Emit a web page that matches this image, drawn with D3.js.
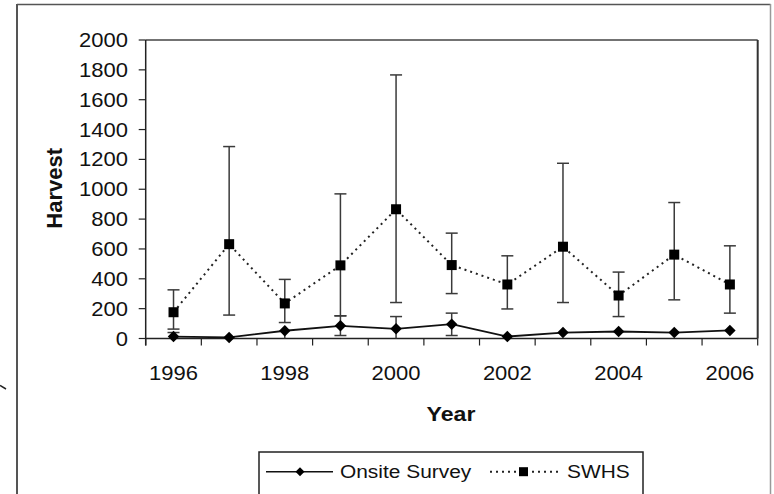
<!DOCTYPE html>
<html>
<head>
<meta charset="utf-8">
<script src="https://cdn.jsdelivr.net/npm/d3@7"></script>
<style>
  html, body { margin: 0; padding: 0; background: #fff; }
  svg { display: block; }
  text { font-family: "Liberation Sans", Arial, sans-serif; fill: #111; }
</style>
</head>
<body>
<svg id="chart" width="774" height="494"></svg>
<script>
// Harvest estimates by year: onsite survey vs. SWHS, with error bars
const years = [1996, 1997, 1998, 1999, 2000, 2001, 2002, 2003, 2004, 2005, 2006];
const xTickLabels = [1996, 1998, 2000, 2002, 2004, 2006];
const yTickValues = [0, 200, 400, 600, 800, 1000, 1200, 1400, 1600, 1800, 2000];

const swhs      = [176, 632, 235, 490, 866, 492, 362, 615, 288, 562, 362];
const swhsUpper = [326, 1286, 396, 969, 1766, 706, 554, 1174, 445, 911, 621];
const swhsLower = [63, 157, 107, 152, 241, 301, 198, 241, 147, 259, 170];

const onsite      = [13, 7, 52, 85, 65, 96, 13, 40, 47, 40, 54];
const onsiteUpper = [40, 7, 52, 152, 147, 170, 13, 40, 47, 40, 54];
const onsiteLower = [0, 7, 0, 20, 0, 20, 13, 40, 47, 40, 54];

const legendLabels = ["Onsite Survey", "SWHS"];

const svg = d3.select("#chart");
const SX = 1.1; // horizontal glyph stretch of the text

const x = d3.scaleBand().domain(years).range([145.7, 757.7]).padding(0);
const y = d3.scaleLinear().domain([0, 2000]).range([338.5, 40]);
const cx = d => x(d) + x.bandwidth() / 2;

function stretchedText(g, px, py, str, opts = {}) {
  const t = g.append("text")
    .attr("transform", `translate(${px},${py}) scale(${SX},1)`)
    .attr("text-anchor", opts.anchor || "middle")
    .style("font-size", (opts.size || 20) + "px")
    .text(str);
  if (opts.bold) t.style("font-weight", "bold");
  return t;
}

// outer frame
svg.append("line").attr("x1", 17).attr("x2", 17).attr("y1", 4).attr("y2", 494)
  .attr("stroke", "#555").attr("stroke-width", 2);
svg.append("line").attr("x1", 17).attr("x2", 770.5).attr("y1", 4.5).attr("y2", 4.5)
  .attr("stroke", "#555").attr("stroke-width", 1.5);
svg.append("line").attr("x1", 770.5).attr("x2", 770.5).attr("y1", 4).attr("y2", 494)
  .attr("stroke", "#999").attr("stroke-width", 1.5);
// small stroke at the far left margin
svg.append("path").attr("d", "M0,385.5 L6,389").attr("stroke", "#222").attr("stroke-width", 1.5).attr("fill", "none");

// plot area border (top and right)
const [x0, x1] = x.range();
svg.append("line").attr("x1", x0).attr("x2", x1).attr("y1", y(2000)).attr("y2", y(2000))
  .attr("stroke", "#444").attr("stroke-width", 1.5);
svg.append("line").attr("x1", x1).attr("x2", x1).attr("y1", y(2000)).attr("y2", y(0))
  .attr("stroke", "#333").attr("stroke-width", 2);

// y axis
const yAxis = svg.append("g");
yAxis.append("line").attr("x1", x0).attr("x2", x0).attr("y1", y(2000)).attr("y2", y(0) + 7)
  .attr("stroke", "#222").attr("stroke-width", 1.5);
yTickValues.forEach(v => {
  yAxis.append("line").attr("x1", x0 - 7).attr("x2", x0).attr("y1", y(v)).attr("y2", y(v))
    .attr("stroke", "#222").attr("stroke-width", 1.2);
  stretchedText(yAxis, 128, y(v) + 7, v, { anchor: "end" });
});

// x axis
const xAxis = svg.append("g");
xAxis.append("line").attr("x1", x0).attr("x2", x1).attr("y1", y(0)).attr("y2", y(0))
  .attr("stroke", "#222").attr("stroke-width", 1.5);
years.concat([null]).forEach(d => {
  const px = d === null ? x1 : x(d);
  xAxis.append("line").attr("x1", px).attr("x2", px).attr("y1", y(0)).attr("y2", y(0) + 7)
    .attr("stroke", "#222").attr("stroke-width", 1.2);
});
xTickLabels.forEach(d => stretchedText(xAxis, cx(d), 380, d));

// axis titles
svg.append("text")
  .attr("transform", `translate(61.5,188.3) rotate(-90)`)
  .attr("text-anchor", "middle")
  .style("font-size", "22px").style("font-weight", "bold")
  .text("Harvest");
stretchedText(svg, 451, 421, "Year", { bold: true, size: 21 });

// error bars
function errorBars(vals, up, lo, color) {
  const g = svg.append("g").attr("stroke", color).attr("stroke-width", 1.5);
  years.forEach((d, i) => {
    if (up[i] > vals[i]) {
      g.append("line").attr("x1", cx(d)).attr("x2", cx(d)).attr("y1", y(vals[i])).attr("y2", y(up[i]));
      g.append("line").attr("x1", cx(d) - 6).attr("x2", cx(d) + 6).attr("y1", y(up[i])).attr("y2", y(up[i]));
    }
    if (lo[i] < vals[i]) {
      g.append("line").attr("x1", cx(d)).attr("x2", cx(d)).attr("y1", y(vals[i])).attr("y2", y(lo[i]));
      if (lo[i] > 0)
        g.append("line").attr("x1", cx(d) - 6).attr("x2", cx(d) + 6).attr("y1", y(lo[i])).attr("y2", y(lo[i]));
    }
  });
}
errorBars(swhs, swhsUpper, swhsLower, "#3a3a3a");
errorBars(onsite, onsiteUpper, onsiteLower, "#3a3a3a");

// series lines
const line = d3.line().x((v, i) => cx(years[i])).y(v => y(v));
svg.append("path").datum(swhs).attr("d", line).attr("fill", "none")
  .attr("stroke", "#222").attr("stroke-width", 2).attr("stroke-dasharray", "2,4");
svg.append("path").datum(onsite).attr("d", line).attr("fill", "none")
  .attr("stroke", "#111").attr("stroke-width", 1.8);

// markers
svg.append("g").selectAll("path").data(onsite).join("path")
  .attr("d", d3.symbol().type(d3.symbolSquare).size(66))
  .attr("transform", (v, i) => `translate(${cx(years[i])},${y(v)}) rotate(45)`)
  .attr("fill", "#000");
svg.append("g").selectAll("rect").data(swhs).join("rect")
  .attr("x", (v, i) => cx(years[i]) - 5).attr("y", v => y(v) - 5)
  .attr("width", 10).attr("height", 10).attr("fill", "#000");

// legend
const lg = svg.append("g");
lg.append("rect").attr("x", 259).attr("y", 452).attr("width", 384).attr("height", 60)
  .attr("fill", "#fff").attr("stroke", "#222").attr("stroke-width", 1.5);
const ly = 471.7;
lg.append("line").attr("x1", 266).attr("x2", 333).attr("y1", ly).attr("y2", ly)
  .attr("stroke", "#111").attr("stroke-width", 1.5);
lg.append("path").attr("d", d3.symbol().type(d3.symbolSquare).size(40))
  .attr("transform", `translate(300,${ly}) rotate(45)`).attr("fill", "#000");
stretchedText(lg, 340, ly + 6.5, legendLabels[0], { anchor: "start", size: 19 });
lg.append("line").attr("x1", 490).attr("x2", 562).attr("y1", ly).attr("y2", ly)
  .attr("stroke", "#222").attr("stroke-width", 2).attr("stroke-dasharray", "2,4");
lg.append("rect").attr("x", 519).attr("y", ly - 4.5).attr("width", 9).attr("height", 9).attr("fill", "#000");
stretchedText(lg, 567, ly + 6.5, legendLabels[1], { anchor: "start", size: 19 });
</script>
</body>
</html>
